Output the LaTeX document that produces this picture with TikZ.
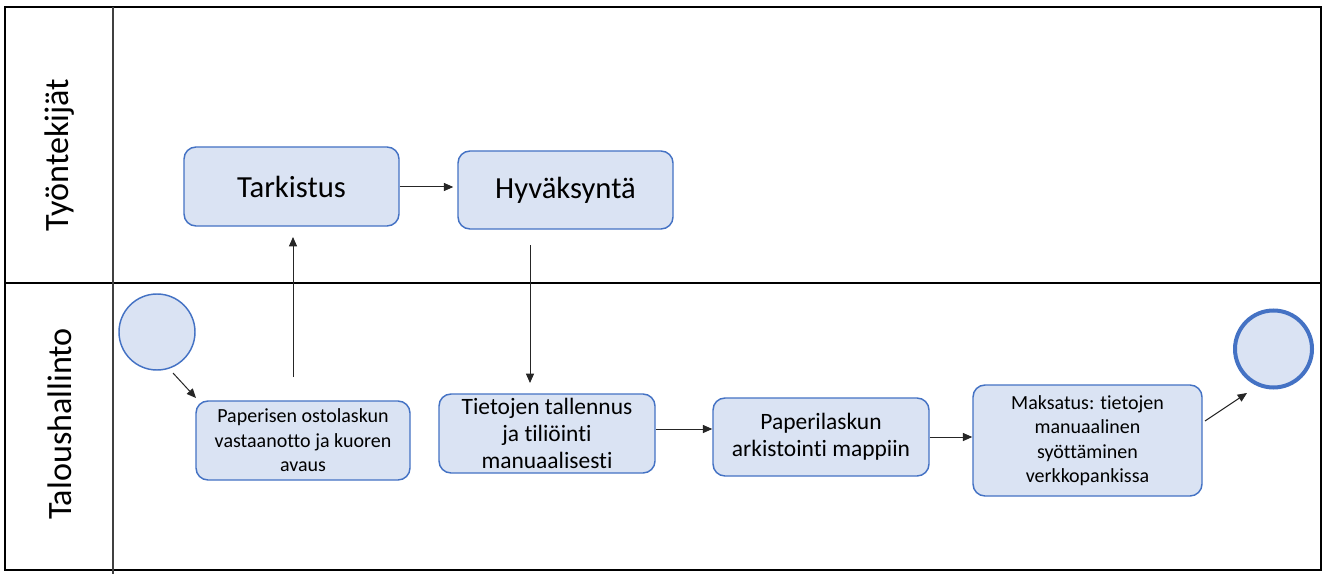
\documentclass[tikz,border=0pt]{standalone}
\usepackage{fontspec}
\setmainfont{Carlito}[Ligatures={NoCommon}]
\usetikzlibrary{arrows.meta}
\definecolor{taskfill}{HTML}{DAE3F3}
\definecolor{taskline}{HTML}{4472C4}
\begin{document}
\begin{tikzpicture}[x=0.75pt,y=-0.75pt,
  task/.style={draw=taskline,fill=taskfill,line width=1.1pt,rounded corners=9pt,
    align=center,inner sep=2pt,text=black},
  bigtask/.style={task,font=\fontsize{23}{27}\selectfont},
  midtask/.style={task,font=\fontsize{17.6}{20.5}\selectfont},
  smalltask/.style={task,font=\fontsize{15}{18.3}\selectfont},
  startev/.style={circle,draw=taskline,fill=taskfill,line width=1.1pt,minimum size=57pt,inner sep=0pt},
  endev/.style={circle,draw=taskline,fill=taskfill,line width=3pt,minimum size=57.75pt,inner sep=0pt},
  lanelabel/.style={rotate=90,font=\fontsize{25.6}{30}\selectfont},
  flow/.style={draw=black!85,line width=0.75pt,-{Triangle[length=7pt,width=6pt]}},
  frame/.style={draw=black,line width=1.1pt},
  divider/.style={draw=black!75,line width=0.8pt}]
\useasboundingbox (0,0) rectangle (1328,574);
\fill[white] (0,0) rectangle (1328,574);

% swimlanes
\draw[frame] (5,7) rectangle (1321,283);
\draw[frame] (5,283) rectangle (1321,570);
\draw[divider] (113,7) -- (113,574);
\node[lanelabel] (laneA) at (60,155) {Työntekijät};
\node[lanelabel] (laneB) at (60,424) {Taloushallinto};

% events
\node[startev] (start) at (157,332) {};
\node[endev] (end) at (1273.5,349) {};

% tasks
\node[bigtask,minimum width=161.25pt,minimum height=59.25pt] (tark) at (291.5,186.5) {Tarkistus};
\node[bigtask,minimum width=161.25pt,minimum height=58.5pt] (hyv) at (565.5,190) {Hyväksyntä};
\node[smalltask,minimum width=160.5pt,minimum height=59.25pt] (vast) at (303,440.5)
  {Paperisen ostolaskun\\vastaanotto ja kuoren\\avaus};
\node[midtask,minimum width=162pt,minimum height=59.25pt] (tiet) at (547,433.5)
  {Tietojen tallennus\\ja tiliöinti\\manuaalisesti};
\node[midtask,minimum width=162pt,minimum height=58.5pt] (arch) at (821,437)
  {Paperilaskun\\arkistointi mappiin};
\node[smalltask,minimum width=171.75pt,minimum height=83.25pt] (maks) at (1087.5,440.5)
  {Maksatus: tietojen\\manuaalinen\\syöttäminen\\verkkopankissa};

% connector end points
\coordinate (s1) at (173,373);
\coordinate (s2) at (196,398);
\coordinate (u1) at (293,377);
\coordinate (u2) at (293,237);
\coordinate (d1) at (530,245);
\coordinate (d2) at (530,383);
\coordinate (e1) at (1205,421);
\coordinate (e2) at (1247,393);

% flows
\draw[flow] (s1) -- (s2);
\draw[flow] (u1) -- (u2);
\draw[flow] (tark.east |- 0,187) -- ([xshift=-3pt]hyv.west |- 0,187);
\draw[flow] (d1) -- (d2);
\draw[flow] (tiet.east |- 0,429) -- (arch.west |- 0,429);
\draw[flow] (arch.east |- 0,437) -- (maks.west |- 0,437);
\draw[flow] (e1) -- (e2);
\end{tikzpicture}
\end{document}
